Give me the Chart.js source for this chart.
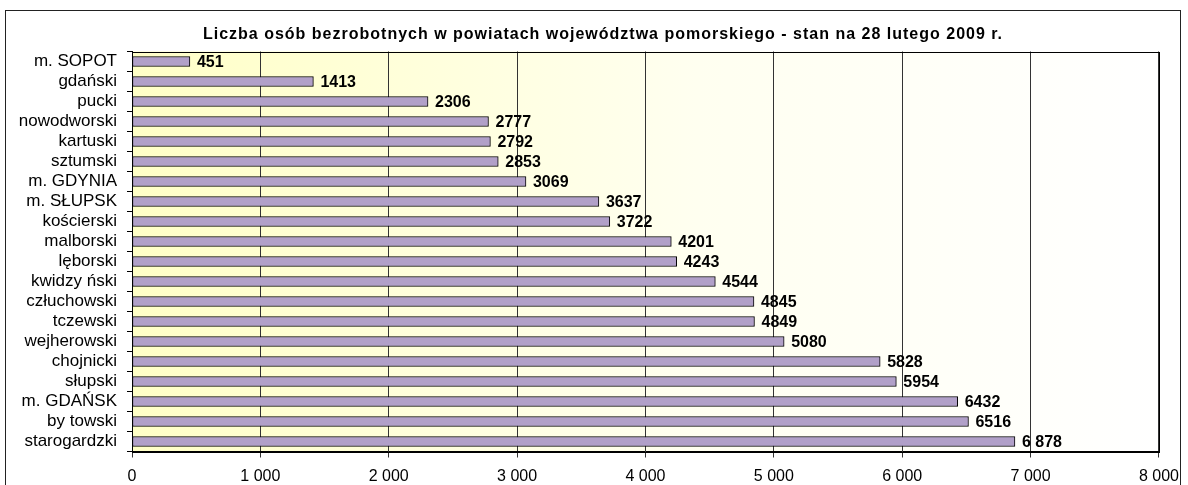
<!DOCTYPE html>
<html>
<head>
<meta charset="utf-8">
<script src="https://cdn.jsdelivr.net/npm/chart.js@4"></script>
<style>
  html, body { margin: 0; padding: 0; background: #fff; }
  #wrap { width: 1188px; height: 485px; position: relative; }
</style>
</head>
<body>
<div id="wrap"><canvas id="chart"></canvas></div>
<script>
const categories = ['m. SOPOT', 'gdański', 'pucki', 'nowodworski', 'kartuski', 'sztumski', 'm. GDYNIA',
  'm. SŁUPSK', 'kościerski', 'malborski', 'lęborski', 'kwidzy ński', 'człuchowski', 'tczewski',
  'wejherowski', 'chojnicki', 'słupski', 'm. GDAŃSK', 'by towski', 'starogardzki'];
const values = [451, 1413, 2306, 2777, 2792, 2853, 3069, 3637, 3722, 4201, 4243, 4544, 4845, 4849,
  5080, 5828, 5954, 6432, 6516, 6878];
const valueText = ['451', '1413', '2306', '2777', '2792', '2853', '3069', '3637', '3722', '4201', '4243',
  '4544', '4845', '4849', '5080', '5828', '5954', '6432', '6516', '6 878'];
const xTicks = [0, 1000, 2000, 3000, 4000, 5000, 6000, 7000, 8000];
const titleText = 'Liczba osób bezrobotnych w powiatach województwa pomorskiego - stan na 28 lutego 2009 r.';

const FONT = 'Liberation Sans, Arial, sans-serif';

// tło obszaru wykresu, ramka zewnętrzna i tytuł
const backgroundPlugin = {
  id: 'plotBackground',
  beforeDraw(chart) {
    const { ctx, chartArea: a } = chart;
    ctx.save();
    ctx.strokeStyle = '#222';
    ctx.lineWidth = 1;
    ctx.strokeRect(5.5, 10.5, 1175, 500);
    const g = ctx.createLinearGradient(a.left, 0, a.right, 0);
    g.addColorStop(0, '#ffffc6');
    g.addColorStop(0.55, '#fffff0');
    g.addColorStop(1, '#ffffff');
    ctx.fillStyle = g;
    ctx.fillRect(a.left, a.top, a.right - a.left, a.bottom - a.top);
    ctx.restore();
  },
  afterDraw(chart) {
    const { ctx, chartArea: a } = chart;
    ctx.save();
    ctx.strokeStyle = '#000';
    ctx.lineWidth = 1;
    ctx.strokeRect(Math.round(a.left) + 0.5, Math.round(a.top) + 0.5,
      Math.round(a.right - a.left), Math.round(a.bottom - a.top));
    // tytuł (rysowany ręcznie, żeby dostać rozstrzelone litery jak w oryginale)
    ctx.fillStyle = '#000';
    ctx.font = 'bold 16px ' + FONT;
    ctx.letterSpacing = '1px';
    ctx.textAlign = 'center';
    ctx.textBaseline = 'middle';
    ctx.fillText(titleText, 603, 35);
    ctx.restore();
  }
};

// etykiety wartości za końcem słupka
const valueLabelsPlugin = {
  id: 'valueLabels',
  afterDatasetsDraw(chart) {
    const { ctx } = chart;
    ctx.save();
    ctx.fillStyle = '#000';
    ctx.font = 'bold 16px ' + FONT;
    ctx.textAlign = 'left';
    ctx.textBaseline = 'middle';
    chart.getDatasetMeta(0).data.forEach((bar, i) => {
      ctx.fillText(valueText[i], bar.x + 7, bar.y + 1);
    });
    ctx.restore();
  }
};

new Chart(document.getElementById('chart'), {
  type: 'bar',
  data: {
    labels: categories,
    datasets: [{
      data: values,
      backgroundColor: '#b1a0c8',
      borderColor: '#000',
      borderWidth: 1,
      borderSkipped: false,
      barThickness: 10
    }]
  },
  options: {
    indexAxis: 'y',
    responsive: true,
    maintainAspectRatio: false,
    animation: false,
    layout: { padding: { left: 0, right: 29, top: 51.5, bottom: 0 } },
    plugins: {
      legend: { display: false },
      tooltip: { enabled: false },
      title: { display: false }
    },
    scales: {
      x: {
        min: 0,
        max: 8000,
        afterBuildTicks(scale) { scale.ticks = xTicks.map(v => ({ value: v })); },
        afterFit(scale) { scale.height = 33.5; },
        grid: { color: '#333', lineWidth: 1, tickLength: 6, drawTicks: true },
        border: { display: true, color: '#000' },
        ticks: {
          color: '#000',
          padding: 9,
          font: { family: FONT, size: 16 },
          callback: v => v === 0 ? '0' : String(v).replace(/\B(?=(\d{3})+(?!\d))/g, ' ')
        }
      },
      y: {
        afterFit(scale) { scale.width = 132; },
        grid: { display: true, drawOnChartArea: false, offset: true, tickLength: 5, color: '#000' },
        border: { display: true, color: '#000' },
        ticks: {
          color: '#000',
          padding: 10,
          autoSkip: false,
          font: { family: FONT, size: 17 }
        }
      }
    }
  },
  plugins: [backgroundPlugin, valueLabelsPlugin]
});
</script>
</body>
</html>
